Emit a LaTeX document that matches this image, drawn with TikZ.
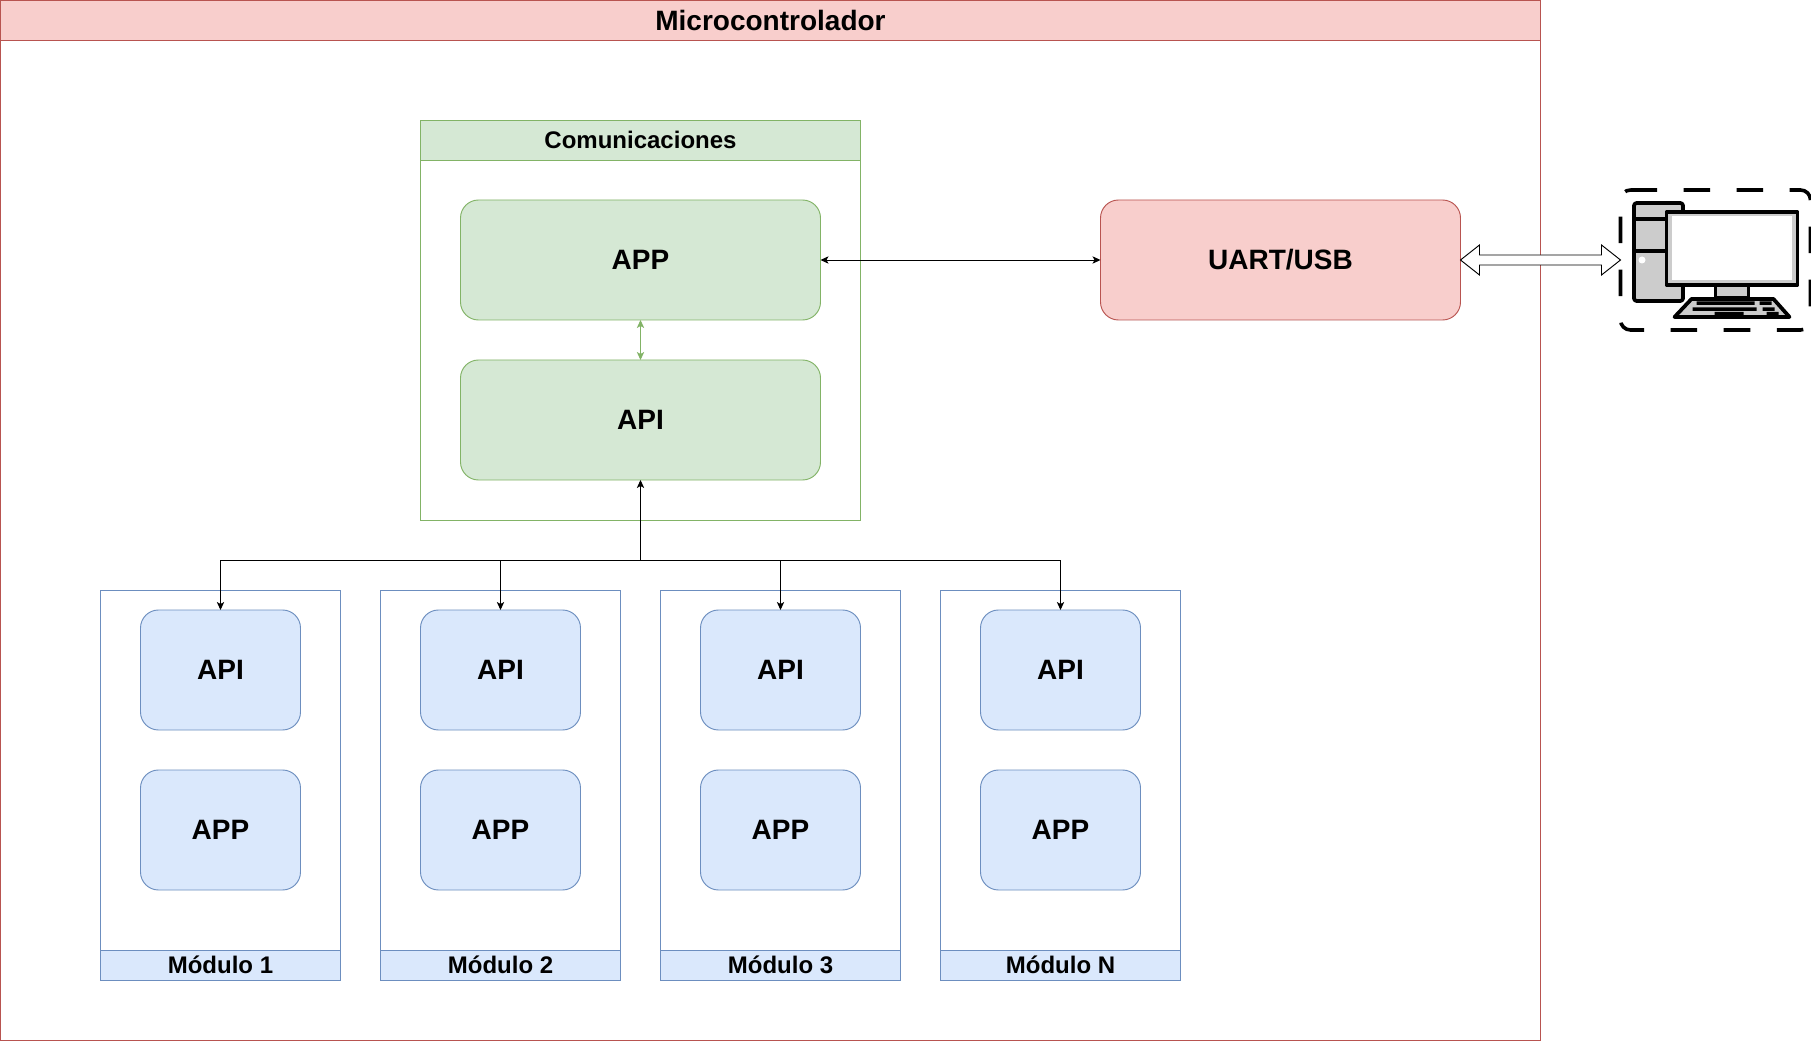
\documentclass[tikz,border=0pt]{standalone}
\usepackage{fontspec}
\setmainfont{Liberation Sans}
\usetikzlibrary{arrows.meta,calc}
\definecolor{rfill}{HTML}{F8CECC}\definecolor{rline}{HTML}{B85450}
\definecolor{gfill}{HTML}{D5E8D4}\definecolor{gline}{HTML}{82B366}
\definecolor{bfill}{HTML}{DAE8FC}\definecolor{bline}{HTML}{6C8EBF}
\definecolor{icongray}{HTML}{CCCCCC}
\tikzset{
  x=0.75pt,y=-0.75pt,
  base/.style={rectangle,inner sep=0pt,outer sep=0pt,line width=0.7pt,font=\bfseries,anchor=north west},
  redc/.style={draw=rline,fill=rfill},
  greenc/.style={draw=gline,fill=gfill},
  bluec/.style={draw=bline,fill=bfill},
  large/.style={font=\fontsize{21}{24}\selectfont\bfseries},
  medium/.style={font=\fontsize{18}{20}\selectfont\bfseries},
  roundbox/.style={base,rounded corners=13.5pt,large},
  wide/.style={minimum width=270pt,minimum height=90pt},
  narrow/.style={minimum width=120pt,minimum height=90pt},
  modframe/.style={base,draw=bline,fill=white,minimum width=180pt,minimum height=292.5pt},
  modhead/.style={base,bluec,medium,minimum width=180pt,minimum height=22.5pt},
  link/.style={line width=0.7pt,black},
  icon/.style={line width=2.8pt,black,line join=round},
}
\begin{document}
\begin{tikzpicture}
\useasboundingbox (0,0) rectangle (1811,1041);
\begin{scope}[shift={(0.5,0)}]
% outer container
\node[base,draw=rline,fill=white,minimum width=1155pt,minimum height=780pt] (micro) at (0,0) {};
\node[base,redc,large,minimum width=1155pt,minimum height=30pt] (microh) at (0,0) {Microcontrolador};
% communications
\node[base,draw=gline,fill=white,minimum width=330pt,minimum height=300pt] (com) at (420,120) {};
\node[base,greenc,medium,minimum width=330pt,minimum height=30pt] (comh) at (420,120) {Comunicaciones};
\node[roundbox,greenc,wide] (capp) at (460,200) {APP};
\node[roundbox,greenc,wide] (capi) at (460,360) {API};
\node[roundbox,redc,wide] (uart) at (1100,200) {UART/USB};
% modules
\foreach \i/\x/\t in {1/100/Módulo 1,2/380/Módulo 2,3/660/Módulo 3,4/940/Módulo N}{
  \node[modframe] (m\i) at (\x,590) {};
  \node[modhead] (mh\i) at (\x,950) {\t};
  \node[roundbox,bluec,narrow] (mapi\i) at (\x+40,610) {API};
  \node[roundbox,bluec,narrow] (mapp\i) at (\x+40,770) {APP};
}
% connectors
\coordinate (bus) at (640,560);
\draw[link,{Stealth[length=6pt,width=5.5pt,inset=1.5pt]}-{Stealth[length=6pt,width=5.5pt,inset=1.5pt]}] (capp.east) -- (uart.west);
\draw[link,draw=gline,{Stealth[length=6pt,width=5.5pt,inset=1.5pt]}-{Stealth[length=6pt,width=5.5pt,inset=1.5pt]}] (capp.south) -- (capi.north);
\draw[link,-{Stealth[length=6pt,width=5.5pt,inset=1.5pt]}] (bus) -- (capi.south);
\foreach \i in {1,2,3,4}{
  \draw[link,-{Stealth[length=6pt,width=5.5pt,inset=1.5pt]}] (bus) -| (mapi\i.north);
}
% computer icon
\coordinate (pc) at (1620,260);
\draw[line width=2.7pt,black,rounded corners=7.5pt,dash pattern=on 19.9pt off 19.9pt]
  (1630,190) -- (1810,190) -- (1810,330) -- (1620,330) -- (1620,190) -- (1630,190);
\draw[icon,fill=icongray,rounded corners=2pt] (1633.5,203) rectangle (1682.5,301);
\draw[icon] (1633.5,219) -- (1666,219) (1633.5,251) -- (1666,251);
\fill[white] (1641.5,260) circle (3.5);
\draw[icon,fill=icongray] (1715,285) rectangle (1748,298);
\draw[icon,fill=icongray] (1666,212) rectangle (1797,285);
\fill[white] (1671,216) rectangle (1791,280);
\draw[icon,fill=icongray] (1674,317) -- (1691,299) -- (1773,299) -- (1789,317) -- cycle;
\fill[black] (1696,301.5) rectangle (1754,305) (1759,301.5) rectangle (1771,305)
  (1692,307.5) rectangle (1756,311) (1762,307.5) rectangle (1774,311)
  (1714,312) rectangle (1743,315.5) (1766,312) rectangle (1778,315.5);
% hollow double arrow between UART/USB and the computer
\draw[line width=0.7pt,black,fill=white]
  (uart.east) -- ($(uart.east)+(19,-15)$) -- ($(uart.east)+(19,-5)$)
  -- ($(pc)+(-19,-5)$) -- ($(pc)+(-19,-15)$) -- (pc)
  -- ($(pc)+(-19,15)$) -- ($(pc)+(-19,5)$)
  -- ($(uart.east)+(19,5)$) -- ($(uart.east)+(19,15)$) -- cycle;
\end{scope}
\end{tikzpicture}
\end{document}
